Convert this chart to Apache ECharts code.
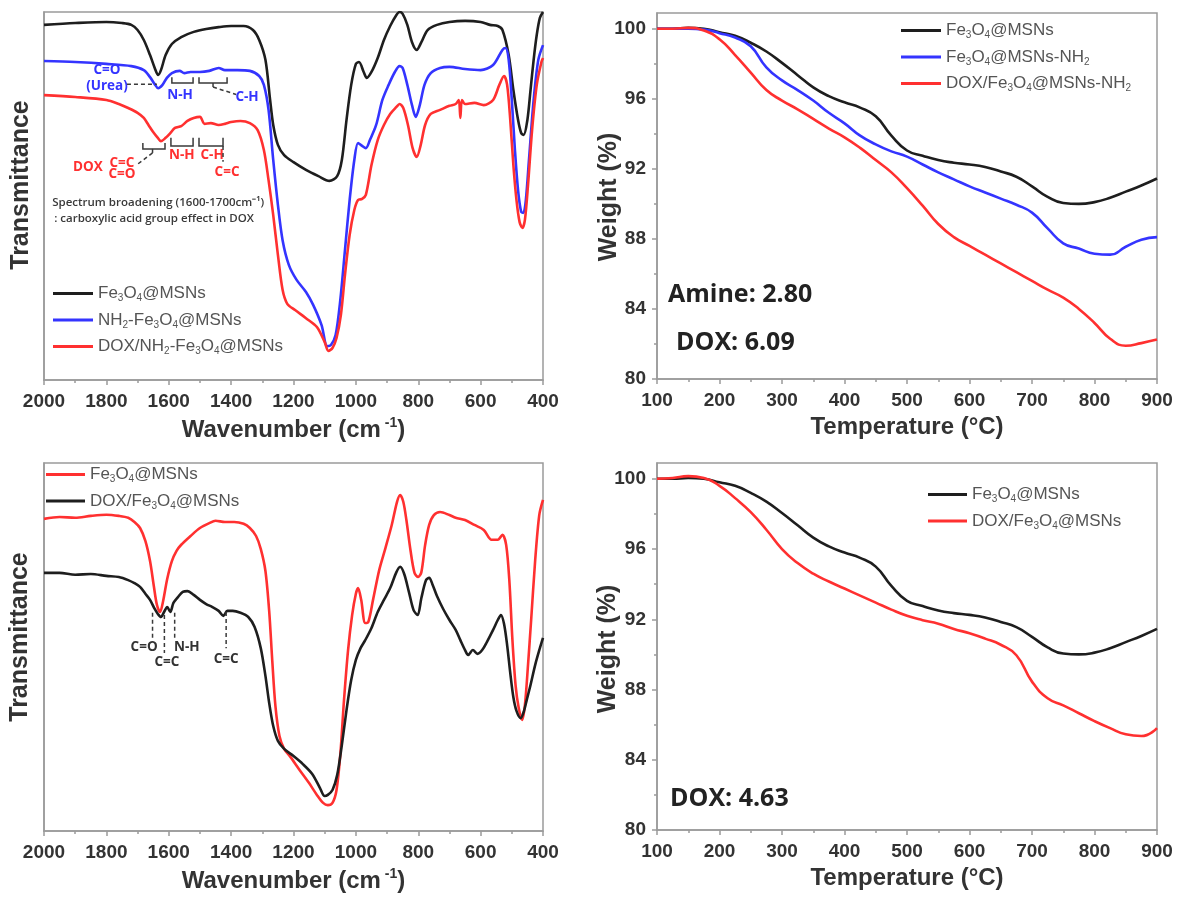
<!DOCTYPE html>
<html><head><meta charset="utf-8">
<script src="https://cdn.jsdelivr.net/npm/echarts@6/dist/echarts.min.js"></script>
<style>html,body{margin:0;padding:0;background:#fff}#c{width:1182px;height:898px}</style>
</head><body><div id="c"></div>
<script>
// ---------------- DATA ----------------
// FTIR (top-left), transmittance in arbitrary units
const irFeWn = [2000,1900,1800,1750,1720,1700,1680,1660,1645,1634,1625,1610,1590,1560,1520,1480,1440,1400,1360,1330,1310,1290,1275,1265,1250,1230,1200,1160,1120,1085,1060,1045,1030,1015,1000,990,975,965,950,930,910,890,870,860,850,835,820,805,790,770,740,700,650,600,570,545,530,510,495,480,470,462,450,440,430,420,410,400];
const irFeT  = [96.5,97.0,97.3,97.0,96.5,95.1,92.4,88.3,84.8,82.9,84.2,88.3,91.3,93.2,94.6,95.4,95.9,96.2,96.2,95.1,92.4,87.0,76.1,69.3,63.9,61.1,59.2,57.1,55.4,54.1,55.4,59.8,70.7,80.2,85.9,86.4,83.7,82.1,83.7,87.5,92.4,96.2,99.2,100,99.5,96.5,91.8,89.7,91.8,95.1,96.5,97.3,97.6,97.3,96.5,96.2,95.1,88.3,78.8,70.7,67.1,66.6,70.7,78.8,87.0,93.8,98.4,100];
const irNh2Wn = [2000,1900,1800,1720,1680,1660,1645,1634,1620,1606,1590,1565,1550,1530,1500,1470,1440,1420,1380,1340,1310,1295,1280,1265,1250,1235,1215,1190,1160,1137,1110,1092,1080,1065,1050,1035,1020,1005,993,980,968,955,935,915,895,875,860,850,835,820,808,795,780,760,730,700,650,600,560,530,520,510,500,490,480,470,463,455,445,430,415,400];
const irNh2T  = [86.7,86.4,85.9,85.3,84.2,82.3,80.4,79.3,80.2,82.1,83.4,84.0,83.4,83.7,83.7,84.0,84.8,84.2,84.2,84.0,82.6,80.2,73.4,59.8,47.6,38.0,31.3,27.2,23.9,20.4,14.9,9.2,9.5,12.2,21.7,35.3,48.9,59.8,64.4,63.6,63.0,65.2,69.3,76.1,80.2,83.7,85.3,84.8,80.2,74.7,71.5,74.7,80.2,83.4,84.8,85.1,84.5,84.2,85.6,89.7,90.2,87.0,76.1,62.5,51.6,45.7,45.4,48.9,59.8,76.1,87.0,91.0];
const irDoxNh2Wn = [2000,1900,1800,1760,1730,1700,1680,1665,1650,1635,1625,1610,1595,1580,1560,1540,1520,1500,1485,1465,1440,1420,1400,1370,1340,1315,1295,1280,1265,1250,1235,1220,1195,1160,1125,1100,1088,1075,1062,1048,1035,1020,1005,993,980,968,950,930,910,890,870,860,848,833,818,805,792,778,760,730,700,680,670,665,660,650,620,590,560,540,525,515,505,495,485,475,466,458,448,435,420,405,400];
const irDoxNh2T  = [77.4,76.9,76.1,75.0,73.9,72.6,71.2,69.3,67.4,65.8,64.9,65.8,67.1,68.5,69.0,70.4,71.2,71.5,69.6,69.8,69.3,69.6,70.1,70.4,69.8,67.9,62.5,54.3,44.8,34.0,24.5,20.7,19.0,16.8,14.4,10.3,7.9,8.7,11.4,17.7,28.5,39.4,46.2,48.9,49.2,50.3,58.4,65.2,69.3,72.3,74.2,75.0,73.9,69.3,63.0,60.6,63.9,69.3,72.3,73.4,74.5,75.0,76.1,71.2,76.1,75.0,75.3,74.7,76.1,80.2,82.6,80.2,70.7,58.4,48.9,42.9,41.3,43.5,53.0,67.9,80.2,86.4,87.5];

// FTIR (bottom-left)
const irFe2Wn = [2000,1950,1900,1850,1800,1760,1730,1710,1692,1675,1660,1648,1638,1628,1618,1605,1590,1575,1560,1530,1500,1470,1450,1420,1390,1360,1340,1320,1305,1290,1278,1268,1258,1245,1230,1210,1180,1150,1125,1105,1090,1075,1062,1050,1038,1025,1012,1000,993,983,970,960,945,925,905,885,868,858,848,838,825,812,800,790,778,765,750,730,700,680,650,620,590,565,545,530,518,508,498,488,478,467,458,448,438,425,412,400];
const irFe2T  = [85.8,86.3,86.1,86.6,86.9,86.6,86.1,85.0,83.4,80.0,74.7,68.2,63.2,61.3,64.2,70.0,74.7,77.4,79.0,81.3,83.4,84.7,85.3,85.0,85.0,84.5,83.4,81.3,77.9,72.1,61.6,48.4,36.6,28.7,25.3,23.2,19.7,16.3,13.2,11.1,10.5,11.1,14.5,23.7,38.2,51.3,60.5,66.1,67.6,64.5,58.4,58.7,64.5,72.4,78.2,84.2,90.3,92.1,90.3,85.5,77.6,71.6,70.5,71.8,78.9,84.2,86.8,87.6,86.8,86.1,85.5,84.2,82.9,80.3,80.3,81.6,78.9,69.7,53.9,42.1,36.1,32.9,36.8,47.4,59.2,75.0,86.8,90.8];
const irDoxFeWn = [2000,1950,1900,1850,1800,1760,1730,1710,1692,1675,1660,1645,1635,1625,1615,1605,1595,1585,1570,1555,1540,1520,1500,1480,1460,1440,1425,1412,1395,1370,1345,1325,1305,1290,1278,1265,1250,1230,1200,1170,1140,1115,1100,1090,1075,1060,1045,1030,1015,1000,985,970,950,930,910,890,870,858,845,830,815,802,790,775,765,755,740,720,700,680,665,650,640,625,610,595,580,560,545,535,525,515,505,495,485,472,462,452,440,425,410,400];
const irDoxFeT  = [71.6,71.6,71.1,71.3,70.8,70.5,69.7,68.9,67.9,66.1,64.5,62.1,60.8,60.0,61.3,62.6,61.3,63.7,65.3,66.6,66.8,65.8,64.5,63.4,62.6,61.6,60.3,61.6,61.6,61.1,60.0,57.4,51.8,44.5,37.4,31.3,27.4,25.3,23.4,21.3,18.7,15.0,12.9,13.2,14.5,18.4,26.3,35.5,43.4,48.7,51.8,53.9,57.1,61.3,64.5,67.6,71.8,73.2,71.3,66.6,61.8,60.5,65.0,69.7,70.3,68.7,65.5,62.1,59.2,56.6,53.9,51.3,50.0,51.3,50.3,51.3,53.4,56.6,59.2,60.5,58.2,52.6,45.3,38.9,35.3,33.4,35.0,38.2,42.1,47.4,51.8,54.5];

// TGA
const tgaTemp = [100,125,150,175,200,225,250,275,300,325,350,375,400,425,450,475,500,525,550,575,600,625,650,675,700,725,750,775,800,825,850,875,900];
const tgaFe     = [100.0,100.0,100.05,100.0,99.8,99.6,99.2,98.7,98.05,97.35,96.65,96.15,95.8,95.5,95.0,93.9,93.05,92.75,92.5,92.35,92.25,92.1,91.85,91.55,91.0,90.4,90.05,90.0,90.1,90.35,90.7,91.05,91.45];
const tgaFeNh2  = [100.0,100.0,100.0,99.95,99.75,99.5,99.0,97.8,97.05,96.5,95.9,95.2,94.6,93.9,93.4,93.0,92.7,92.25,91.8,91.4,91.0,90.65,90.3,89.95,89.5,88.6,87.75,87.45,87.15,87.1,87.55,87.95,88.1];
const tgaDoxNh2 = [100.0,100.0,100.05,99.9,99.4,98.5,97.5,96.5,95.9,95.4,94.85,94.3,93.8,93.2,92.5,91.8,90.9,89.9,88.85,88.1,87.6,87.1,86.6,86.1,85.6,85.1,84.65,84.0,83.2,82.3,81.9,82.05,82.25];
const tgaDoxFe  = [100.0,100.05,100.15,100.05,99.6,98.9,98.1,97.1,96.0,95.2,94.6,94.15,93.75,93.35,92.95,92.55,92.2,91.95,91.75,91.45,91.2,90.9,90.55,89.95,88.45,87.5,87.1,86.65,86.2,85.8,85.45,85.35,85.8];

const tgaYTicks = [80,84,88,92,96,100];
const tgaYMinor = [82,86,90,94,98];

// ---------------- STYLE ----------------
const FONT = '"Liberation Sans", Arial, sans-serif';
const AF = '"Open Sans", sans-serif';
const BLACK = '#1e1e1e', BLUE = '#3434ff', RED = '#ff3030', FRAME = '#9a9a9a', TXT = '#333';
const G = [
  {left:44, top:12, width:499, height:368},
  {left:657, top:13, width:500, height:366},
  {left:44, top:463, width:499, height:368},
  {left:657, top:463, width:500, height:367}
];

const LABELS = {
  'Fe3O4@MSNs (FTIR)': '{t|Fe}{s|3}{t|O}{s|4}{t|@MSNs}',
  'NH2-Fe3O4@MSNs (FTIR)': '{t|NH}{s|2}{t|-Fe}{s|3}{t|O}{s|4}{t|@MSNs}',
  'DOX/NH2-Fe3O4@MSNs (FTIR)': '{t|DOX/NH}{s|2}{t|-Fe}{s|3}{t|O}{s|4}{t|@MSNs}',
  'Fe3O4@MSNs (TGA)': '{t|Fe}{s|3}{t|O}{s|4}{t|@MSNs}',
  'Fe3O4@MSNs-NH2 (TGA)': '{t|Fe}{s|3}{t|O}{s|4}{t|@MSNs-NH}{s|2}',
  'DOX/Fe3O4@MSNs-NH2 (TGA)': '{t|DOX/Fe}{s|3}{t|O}{s|4}{t|@MSNs-NH}{s|2}',
  'Fe3O4@MSNs (FTIR 2)': '{t|Fe}{s|3}{t|O}{s|4}{t|@MSNs}',
  'DOX/Fe3O4@MSNs (FTIR 2)': '{t|DOX/Fe}{s|3}{t|O}{s|4}{t|@MSNs}',
  'Fe3O4@MSNs (TGA 2)': '{t|Fe}{s|3}{t|O}{s|4}{t|@MSNs}',
  'DOX/Fe3O4@MSNs (TGA 2)': '{t|DOX/Fe}{s|3}{t|O}{s|4}{t|@MSNs}'
};

const tickStyle = {color: FRAME, width: 1.5};
const labelStyle = {fontSize: 19, fontWeight: 'bold', color: TXT, fontFamily: FONT, formatter: v => String(v)};
const nameRich = {
  a: {fontSize: 24, fontWeight: 'bold', color: TXT, fontFamily: FONT, lineHeight: 28},
  b: {fontSize: 14, fontWeight: 'bold', color: TXT, fontFamily: FONT, lineHeight: 14, verticalAlign: 'top'}
};

function irX(gi) {
  return {
    type: 'value', gridIndex: gi, inverse: true, min: 400, max: 2000, interval: 200,
    axisLine: {show: true, lineStyle: tickStyle},
    axisTick: {show: true, length: 5, lineStyle: tickStyle},
    minorTick: {show: true, splitNumber: 2, length: 3, lineStyle: tickStyle},
    splitLine: {show: false},
    axisLabel: Object.assign({margin: 12, showMinLabel: true, showMaxLabel: true}, labelStyle),
    name: '{a|Wavenumber (cm}{b| -1}{a|)}', nameLocation: 'middle', nameGap: 36,
    nameTextStyle: {rich: nameRich}
  };
}
function tgaX(gi) {
  return {
    type: 'value', gridIndex: gi, min: 100, max: 900, interval: 100,
    axisLine: {show: true, lineStyle: tickStyle},
    axisTick: {show: true, length: 5, lineStyle: tickStyle},
    minorTick: {show: true, splitNumber: 2, length: 3, lineStyle: tickStyle},
    splitLine: {show: false},
    axisLabel: Object.assign({margin: 12, showMinLabel: true, showMaxLabel: true}, labelStyle),
    name: '{a|Temperature (°C)}', nameLocation: 'middle', nameGap: 34,
    nameTextStyle: {rich: nameRich}
  };
}
function irY(gi, mn, mx) {
  return {type: 'value', gridIndex: gi, min: mn, max: mx, position: 'left',
    axisLine: {show: true, lineStyle: tickStyle}, axisTick: {show: false},
    axisLabel: {show: false}, splitLine: {show: false}};
}
function tgaY(gi) {
  return {type: 'value', gridIndex: gi, min: 80, max: 100.9, interval: 4, position: 'left',
    axisLine: {show: true, lineStyle: tickStyle},
    axisTick: {show: true, length: 5, lineStyle: tickStyle, customValues: tgaYTicks},
    axisLabel: Object.assign({margin: 11, customValues: tgaYTicks}, labelStyle),
    splitLine: {show: false}};
}
function tgaYMinorAxis(gi) {
  return {type: 'value', gridIndex: gi, min: 80, max: 100.9, interval: 4, position: 'left', offset: 0,
    axisLine: {show: false},
    axisTick: {show: true, length: 3, lineStyle: tickStyle, customValues: tgaYMinor},
    axisLabel: {show: false}, splitLine: {show: false}};
}

function line(name, xi, yi, xs, ys, color, smooth) {
  return {
    name, type: 'line', xAxisIndex: xi, yAxisIndex: yi, symbol: 'none', smooth: smooth,
    itemStyle: {color}, lineStyle: {color, width: 2.6},
    data: xs.map((x, i) => [x, ys[i]]), silent: true, animation: false, z: 3
  };
}

function legend(names, left, top, itemWidth) {
  return {
    orient: 'vertical', left, top, padding: 0, itemWidth, itemHeight: 3, itemGap: 8,
    selectedMode: false, icon: 'rect',
    data: names.map(n => ({name: n, icon: 'rect'})),
    formatter: n => LABELS[n],
    textStyle: {
      color: '#555', fontFamily: FONT, fontSize: 17,
      rich: {
        t: {fontSize: 17, color: '#555', fontFamily: FONT, lineHeight: 20},
        s: {fontSize: 10, color: '#555', fontFamily: FONT, lineHeight: 11, verticalAlign: 'bottom'}
      }
    }
  };
}

const chart = echarts.init(document.getElementById('c'), null, {renderer: 'canvas'});
chart.setOption({
  animation: false,
  backgroundColor: '#fff',
  grid: G.map(g => Object.assign({show: true, borderColor: FRAME, borderWidth: 1.5, backgroundColor: 'transparent'}, g)),
  xAxis: [irX(0), tgaX(1), irX(2), tgaX(3)],
  yAxis: [irY(0, 0, 100), tgaY(1), tgaYMinorAxis(1), irY(2, 3.7, 100.5), tgaY(3), tgaYMinorAxis(3)],
  legend: [
    legend(['Fe3O4@MSNs (FTIR)', 'NH2-Fe3O4@MSNs (FTIR)', 'DOX/NH2-Fe3O4@MSNs (FTIR)'], 53, 285, 40),
    legend(['Fe3O4@MSNs (TGA)', 'Fe3O4@MSNs-NH2 (TGA)', 'DOX/Fe3O4@MSNs-NH2 (TGA)'], 901, 22, 40),
    legend(['Fe3O4@MSNs (FTIR 2)', 'DOX/Fe3O4@MSNs (FTIR 2)'], 46, 466, 39),
    legend(['Fe3O4@MSNs (TGA 2)', 'DOX/Fe3O4@MSNs (TGA 2)'], 928, 486, 39)
  ],
  series: [
    line('Fe3O4@MSNs (FTIR)', 0, 0, irFeWn, irFeT, BLACK, 0.3),
    line('NH2-Fe3O4@MSNs (FTIR)', 0, 0, irNh2Wn, irNh2T, BLUE, 0.3),
    line('DOX/NH2-Fe3O4@MSNs (FTIR)', 0, 0, irDoxNh2Wn, irDoxNh2T, RED, 0.3),
    line('Fe3O4@MSNs (TGA)', 1, 1, tgaTemp, tgaFe, BLACK, 0.5),
    line('Fe3O4@MSNs-NH2 (TGA)', 1, 1, tgaTemp, tgaFeNh2, BLUE, 0.5),
    line('DOX/Fe3O4@MSNs-NH2 (TGA)', 1, 1, tgaTemp, tgaDoxNh2, RED, 0.5),
    line('Fe3O4@MSNs (FTIR 2)', 2, 3, irFe2Wn, irFe2T, RED, 0.3),
    line('DOX/Fe3O4@MSNs (FTIR 2)', 2, 3, irDoxFeWn, irDoxFeT, BLACK, 0.3),
    line('Fe3O4@MSNs (TGA 2)', 3, 4, tgaTemp, tgaFe, BLACK, 0.5),
    line('DOX/Fe3O4@MSNs (TGA 2)', 3, 4, tgaTemp, tgaDoxFe, RED, 0.5)
  ]
});

// ---------------- ANNOTATIONS (data coordinates) ----------------
const topLeftTexts = [
  {p: [1798, 84.2], t: 'C=O', c: BLUE}, {p: [1798, 79.9], t: '(Urea)', c: BLUE},
  {p: [1564, 77.4], t: 'N-H', c: BLUE}, {p: [1349, 76.9], t: 'C-H', c: BLUE},
  {p: [1859, 57.9], t: 'DOX', c: RED}, {p: [1750, 59.0], t: 'C=C', c: RED}, {p: [1750, 56.0], t: 'C=O', c: RED},
  {p: [1558, 61.1], t: 'N-H', c: RED}, {p: [1461, 61.1], t: 'C-H', c: RED}, {p: [1413, 56.5], t: 'C=C', c: RED},
  {p: [1634, 48.1], t: 'Spectrum broadening (1600-1700cm⁻¹)', c: '#3a3a3a', small: true},
  {p: [1647, 43.8], t: ': carboxylic acid group effect in DOX', c: '#3a3a3a', small: true}
];
const topLeftLines = [
  {pts: [[1734, 80.4], [1638, 80.4]], dash: true},
  {pts: [[1590, 82.3], [1590, 80.7], [1522, 80.7], [1522, 82.3]]},
  {pts: [[1503, 82.3], [1503, 80.7], [1413, 80.7], [1413, 82.3]]},
  {pts: [[1458, 80.7], [1458, 79.6]]},
  {pts: [[1458, 79.6], [1384, 77.6]], dash: true},
  {pts: [[1683, 64.4], [1683, 62.8], [1612, 62.8], [1612, 64.4]]},
  {pts: [[1652, 62.8], [1652, 61.7]]},
  {pts: [[1652, 61.7], [1699, 58.7]], dash: true},
  {pts: [[1593, 65.8], [1593, 63.6], [1522, 63.6], [1522, 65.8]]},
  {pts: [[1503, 65.8], [1503, 63.6], [1426, 63.6], [1426, 65.8]]},
  {pts: [[1426, 63.6], [1426, 59.3]], dash: true}
];
const botLeftTexts = [
  {p: [1679, 52.1], t: 'C=O', c: '#333'}, {p: [1542, 52.1], t: 'N-H', c: '#333'},
  {p: [1606, 48.2], t: 'C=C', c: '#333'}, {p: [1416, 48.9], t: 'C=C', c: '#333'}
];
const botLeftLines = [
  {pts: [[1652, 61.1], [1652, 53.9]], dash: true},
  {pts: [[1614, 60.5], [1614, 50.5]], dash: true},
  {pts: [[1581, 61.1], [1581, 53.9]], dash: true},
  {pts: [[1416, 61.3], [1416, 51.8]], dash: true}
];
const tgaTexts = [
  {xi: 1, yi: 1, p: [117.6, 84.8], t: 'Amine: 2.80'},
  {xi: 1, yi: 1, p: [130.4, 82.06], t: 'DOX: 6.09'},
  {xi: 3, yi: 4, p: [120.8, 81.8], t: 'DOX: 4.63'}
];

function toPx(xi, yi, p) { return chart.convertToPixel({xAxisIndex: xi, yAxisIndex: yi}, p); }
const gfx = [];
function addTexts(list, xi, yi) {
  list.forEach(a => {
    const q = toPx(xi, yi, a.p);
    gfx.push({type: 'text', x: q[0], y: q[1], z: 10, silent: true, style: {
      text: a.t, fill: a.c, align: 'center', verticalAlign: 'middle',
      font: a.small ? '600 11.5px ' + AF : 'bold 13.5px ' + AF}});
  });
}
function addLines(list, xi, yi) {
  list.forEach(l => {
    gfx.push({type: 'polyline', z: 10, silent: true,
      shape: {points: l.pts.map(p => toPx(xi, yi, p))},
      style: {stroke: '#3a3a3a', lineWidth: 1.5, fill: null, lineDash: l.dash ? [4, 3] : null}});
  });
}
addTexts(topLeftTexts, 0, 0); addLines(topLeftLines, 0, 0);
addTexts(botLeftTexts, 2, 3); addLines(botLeftLines, 2, 3);
tgaTexts.forEach(a => {
  const q = toPx(a.xi, a.yi, a.p);
  gfx.push({type: 'text', x: q[0], y: q[1], z: 10, silent: true, style: {
    text: a.t, fill: '#222', align: 'left', verticalAlign: 'middle', font: 'bold 25px ' + AF}});
});
// rotated y-axis titles
const yTitles = [
  {x: 21, y: 185, t: 'Transmittance'}, {x: 609, y: 197, t: 'Weight (%)'},
  {x: 20, y: 637, t: 'Transmittance'}, {x: 608, y: 649, t: 'Weight (%)'}
];
yTitles.forEach(a => gfx.push({type: 'text', x: a.x, y: a.y, rotation: Math.PI / 2, silent: true,
  style: {text: a.t, fill: TXT, align: 'center', verticalAlign: 'middle', font: 'bold 25px ' + FONT}}));
chart.setOption({graphic: gfx});
</script>
</body></html>
